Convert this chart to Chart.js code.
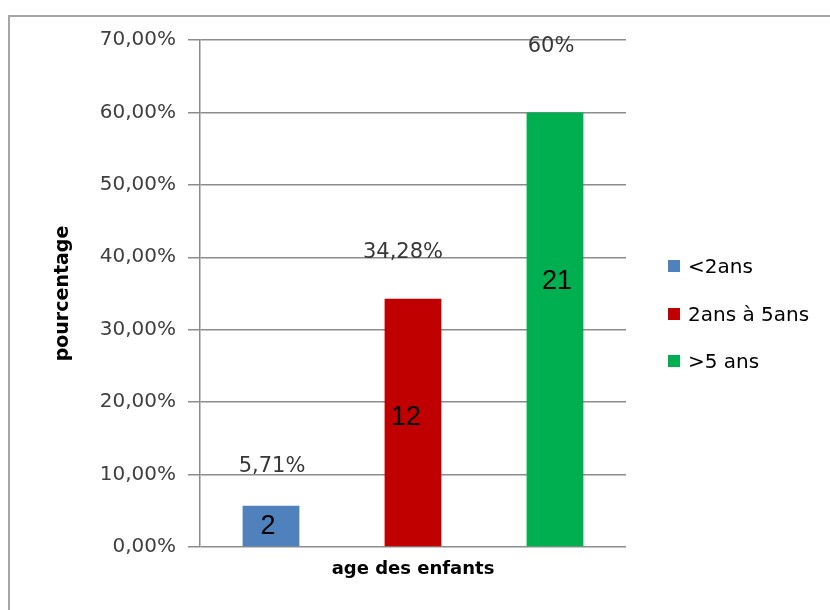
<!DOCTYPE html>
<html>
<head>
<meta charset="utf-8">
<script src="https://cdn.jsdelivr.net/npm/chart.js@4"></script>
<style>
  html, body { margin: 0; padding: 0; background: #fff; overflow: hidden; }
  #wrap { position: relative; width: 830px; height: 610px; }
  #frame { position: absolute; left: 8px; top: 15px; width: 900px; height: 700px;
           border: 2px solid #a6a6a6; box-sizing: border-box; }
  canvas { position: absolute; left: 0; top: 0; }
  #legend { position: absolute; left: 668px; top: 254px; font: 20px "DejaVu Sans"; color: #000; }
  #legend .item { position: absolute; left: 0; white-space: nowrap; height: 24px; line-height: 24px; }
  #legend .box { position: absolute; left: 0; top: 6px; width: 12px; height: 12px; }
  #legend .txt { position: absolute; left: 20px; top: 0; }
</style>
</head>
<body>
<div id="wrap">
  <div id="frame"></div>
  <canvas id="chart" width="830" height="610"></canvas>
  <div id="legend"></div>
</div>
<script>
// Données
const categories = ["age des enfants"];
const seriesNames = ["<2ans", "2ans à 5ans", ">5 ans"];
const percentages = [5.71, 34.28, 60];
const pctLabels = ["5,71%", "34,28%", "60%"];
const counts = [2, 12, 21];
const seriesColors = ["#4f81bd", "#c00000", "#00b050"];

// Décalage des étiquettes (placées à la main dans l'original)
const pctShift = [[1, -39], [-10, -46], [-4, -66]];
const countShift = [[-3, 21], [-7, 119], [2, 169]];

const formatTick = (v) => v.toFixed(2).replace(".", ",") + "%";

const labelsPlugin = {
  id: "barLabels",
  afterDatasetsDraw(chart) {
    const ctx = chart.ctx;
    ctx.save();
    ctx.textAlign = "center";
    ctx.textBaseline = "middle";
    chart.data.datasets.forEach((ds, i) => {
      const bar = chart.getDatasetMeta(i).data[0];
      ctx.font = "21px 'DejaVu Sans'";
      ctx.fillStyle = "#383838";
      ctx.fillText(pctLabels[i], bar.x + pctShift[i][0], bar.y + pctShift[i][1]);
      ctx.font = "27px 'Liberation Sans'";
      ctx.fillStyle = "#000";
      ctx.fillText(String(counts[i]), bar.x + countShift[i][0], bar.y + countShift[i][1]);
    });
    ctx.restore();
  }
};

const chart = new Chart(document.getElementById("chart"), {
  type: "bar",
  data: {
    labels: categories,
    datasets: seriesNames.map((name, i) => ({
      label: name,
      data: [percentages[i]],
      backgroundColor: seriesColors[i],
      borderWidth: 0
    }))
  },
  options: {
    responsive: false,
    animation: false,
    categoryPercentage: 1.0,
    barPercentage: 0.4,
    layout: { padding: { top: 40, left: 52, right: 204, bottom: 24 } },
    plugins: {
      tooltip: { enabled: false },
      legend: { display: false }
    },
    scales: {
      x: {
        grid: { display: false, drawTicks: false },
        border: { display: false },
        ticks: {
          padding: 12,
          color: "#000",
          font: { family: "DejaVu Sans", size: 18, weight: "bold" }
        },
        afterFit: (s) => { s.height = 39; }
      },
      y: {
        min: 0,
        max: 70,
        ticks: {
          stepSize: 10,
          padding: 12,
          color: "#404040",
          font: { family: "DejaVu Sans", size: 20 },
          callback: formatTick
        },
        grid: { color: "#8c8c8c", lineWidth: 1.5, tickLength: 12 },
        border: { display: true, color: "#8c8c8c", width: 1.5 },
        title: {
          display: true,
          text: "pourcentage",
          color: "#000",
          padding: 0,
          font: { family: "DejaVu Sans", size: 19, weight: "bold" }
        },
        afterFit: (s) => { s.width = 148; }
      }
    }
  },
  plugins: [labelsPlugin]
});

// Légende
const legend = document.getElementById("legend");
chart.data.datasets.forEach((ds, i) => {
  const item = document.createElement("div");
  item.className = "item";
  item.style.top = (i * 47.5) + "px";
  item.innerHTML = `<span class="box" style="background:${ds.backgroundColor}"></span><span class="txt"></span>`;
  item.querySelector(".txt").textContent = ds.label;
  legend.appendChild(item);
});
</script>
</body>
</html>
